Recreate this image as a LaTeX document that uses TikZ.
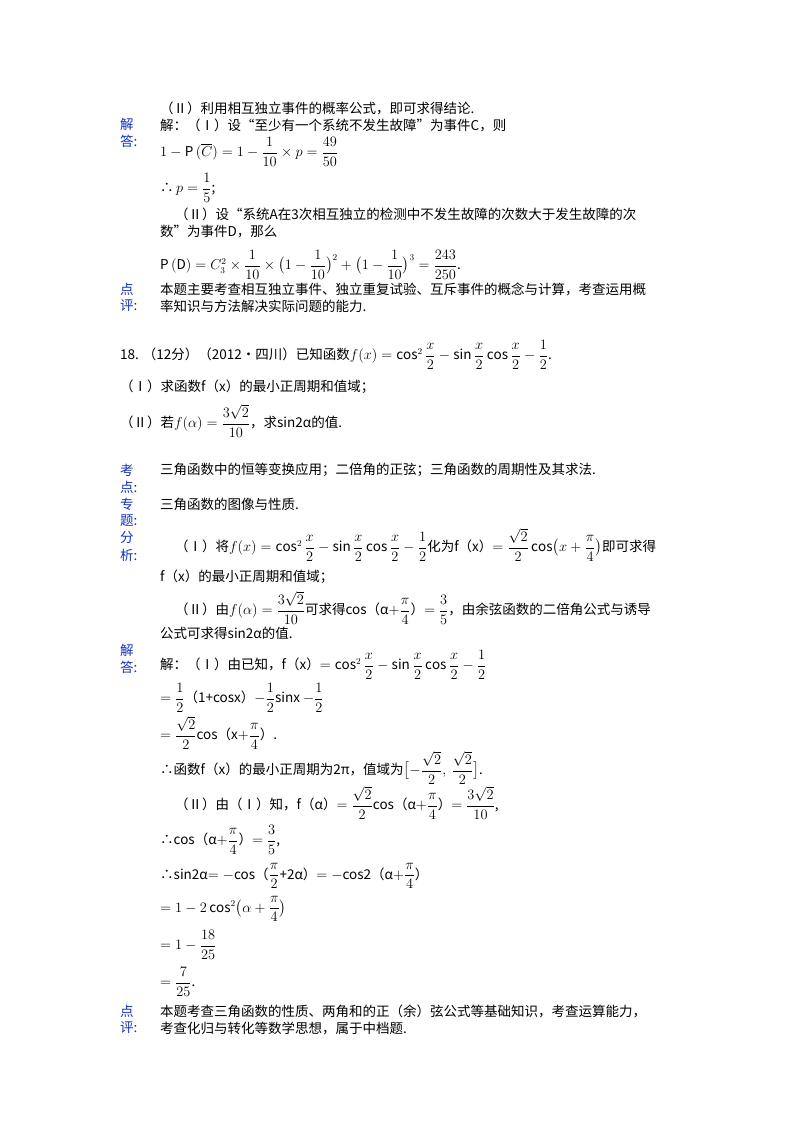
\documentclass[tikz,border=0pt]{standalone}
\usepackage{fontspec}
\setmainfont{Noto Sans CJK SC}
\usepackage{amsmath}
\definecolor{lab}{RGB}{20,50,190}
\tikzset{t/.style={anchor=west,inner sep=0pt,font=\fontsize{13.5}{16}\selectfont},
 lb/.style={anchor=west,inner sep=0pt,text=lab,font=\fontsize{13.5}{16}\selectfont}}
\newcommand{\fr}[2]{\dfrac{#1}{#2}}
\begin{document}
\begin{tikzpicture}[x=1pt,y=1pt]
\useasboundingbox[fill=white] (0,0) rectangle (800,-1132);
\node[t] (l1) at (160,-108) {（Ⅱ）利用相互独立事件的概率公式，即可求得结论.};
\node[lb] (a1) at (120,-124) {解};
\node[lb] (a2) at (120,-141) {答:};
\node[t] (l2) at (160,-125) {解：（Ⅰ）设“至少有一个系统不发生故障”为事件C，则};
\node[t] (l3) at (160,-152) {$1-\mathrm{P}\,(\overline{C})=1-\fr{1}{10}\times p=\fr{49}{50}$};
\node[t] (l4) at (160,-188) {∴$\,p=\fr{1}{5}$;};
\node[t] (l5) at (175,-214) {（Ⅱ）设“系统A在3次相互独立的检测中不发生故障的次数大于发生故障的次};
\node[t] (l6) at (160,-232) {数”为事件D，那么};
\node[t] (l7) at (160,-265) {$\mathrm{P}\,(\mathrm{D})=C_3^2\times\fr{1}{10}\times\bigl(1-\fr{1}{10}\bigr)^2+\bigl(1-\fr{1}{10}\bigr)^3=\fr{243}{250}$.};
\node[lb] (p1) at (120,-289) {点};
\node[lb] (p2) at (120,-306) {评:};
\node[t] (l8) at (160,-289) {本题主要考查相互独立事件、独立重复试验、互斥事件的概念与计算，考查运用概};
\node[t] (l9) at (160,-306) {率知识与方法解决实际问题的能力.};
\node[t] (q1) at (120,-355) {18. （12分）（2012•四川）已知函数$f(x)=\cos^2\fr{x}{2}-\sin\fr{x}{2}\cos\fr{x}{2}-\fr{1}{2}$.};
\node[t] (q2) at (120,-387) {（Ⅰ）求函数f（x）的最小正周期和值域；};
\node[t] (q3) at (120,-421) {（Ⅱ）若$f(\alpha)=\fr{3\sqrt{2}}{10}$，求sin2α的值.};
\node[lb] (k1) at (120,-470) {考};
\node[lb] (k2) at (120,-487) {点:};
\node[t] (k3) at (160,-470) {三角函数中的恒等变换应用；二倍角的正弦；三角函数的周期性及其求法.};
\node[lb] (z1) at (120,-504) {专};
\node[lb] (z2) at (120,-521) {题:};
\node[t] (z3) at (160,-504) {三角函数的图像与性质.};
\node[lb] (f1) at (120,-538) {分};
\node[lb] (f2) at (120,-555) {析:};
\node[t] (f3) at (175,-545) {（Ⅰ）将$f(x)=\cos^2\fr{x}{2}-\sin\fr{x}{2}\cos\fr{x}{2}-\fr{1}{2}$化为f（x）$=\fr{\sqrt{2}}{2}\cos\bigl(x+\fr{\pi}{4}\bigr)$即可求得};
\node[t] (f4) at (160,-577) {f（x）的最小正周期和值域；};
\node[t] (f5) at (175,-608) {（Ⅱ）由$f(\alpha)=\fr{3\sqrt{2}}{10}$可求得cos（α$+\fr{\pi}{4}$）$=\fr{3}{5}$，由余弦函数的二倍角公式与诱导};
\node[t] (f6) at (160,-633) {公式可求得sin2α的值.};
\node[lb] (j1) at (120,-650) {解};
\node[lb] (j2) at (120,-667) {答:};
\node[t] (s1) at (160,-665) {解：（Ⅰ）由已知，f（x）$=\cos^2\fr{x}{2}-\sin\fr{x}{2}\cos\fr{x}{2}-\fr{1}{2}$};
\node[t] (s2) at (160,-698) {$=\fr{1}{2}$（1+cosx）$-\fr{1}{2}$sinx $-\fr{1}{2}$};
\node[t] (s3) at (160,-733) {$=\fr{\sqrt{2}}{2}$cos（x$+\fr{\pi}{4}$）.};
\node[t] (s4) at (160,-768) {∴函数f（x）的最小正周期为2π，值域为$\bigl[-\fr{\sqrt{2}}{2},\ \fr{\sqrt{2}}{2}\bigr]$.};
\node[t] (s5) at (175,-803) {（Ⅱ）由（Ⅰ）知，f（α）$=\fr{\sqrt{2}}{2}$cos（α$+\fr{\pi}{4}$）$=\fr{3\sqrt{2}}{10}$,};
\node[t] (s6) at (160,-840) {∴cos（α$+\fr{\pi}{4}$）$=\fr{3}{5}$,};
\node[t] (s7) at (160,-876) {∴sin2α$=-$cos（$\fr{\pi}{2}$+2α）$=-$cos2（α$+\fr{\pi}{4}$）};
\node[t] (s8) at (160,-909) {$=1-2\cos^2\bigl(\alpha+\fr{\pi}{4}\bigr)$};
\node[t] (s9) at (160,-945) {$=1-\fr{18}{25}$};
\node[t] (s10) at (160,-982) {$=\fr{7}{25}$.};
\node[lb] (d1) at (120,-1011) {点};
\node[lb] (d2) at (120,-1028) {评:};
\node[t] (d3) at (160,-1011) {本题考查三角函数的性质、两角和的正（余）弦公式等基础知识，考查运算能力，};
\node[t] (d4) at (160,-1028) {考查化归与转化等数学思想，属于中档题.};
\end{tikzpicture}
\end{document}
